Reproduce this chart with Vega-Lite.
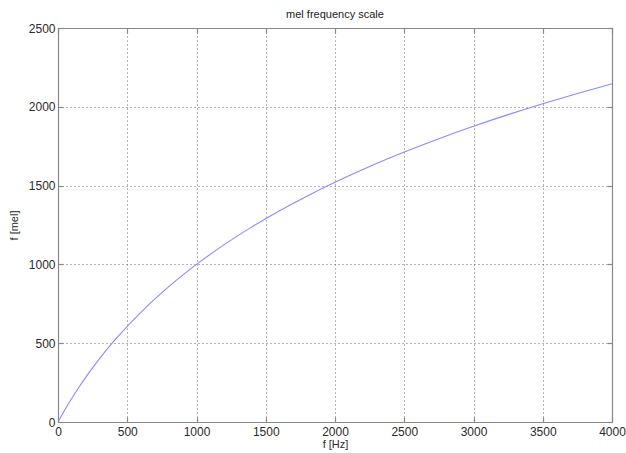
{
  "$schema": "https://vega.github.io/schema/vega-lite/v6.json",
  "width": 554,
  "height": 394,
  "autosize": {"type": "none"},
  "padding": {"left": 58, "top": 28, "right": 14, "bottom": 31},
  "background": "white",
  "title": {"text": "mel frequency scale", "fontSize": 11, "fontWeight": "normal", "font": "Liberation Sans", "color": "#222", "offset": 2},
  "config": {
    "view": {"stroke": null},
    "axis": {"labelFont": "Liberation Sans", "titleFont": "Liberation Sans", "labelFontSize": 12, "titleFontSize": 11, "titleFontWeight": "normal", "labelColor": "#2a2a2a", "titleColor": "#2a2a2a", "domainColor": "#888", "tickColor": "#888", "domainWidth": 1.2, "tickWidth": 1.2, "format": "d"}
  },
  "data": {"values": [
    {"hz": 0, "mel": 0}, {"hz": 50, "mel": 77.8}, {"hz": 100, "mel": 150.5}, {"hz": 150, "mel": 218.8},
    {"hz": 200, "mel": 283.2}, {"hz": 300, "mel": 402.0}, {"hz": 400, "mel": 509.4}, {"hz": 500, "mel": 607.5},
    {"hz": 600, "mel": 697.7}, {"hz": 700, "mel": 781.2}, {"hz": 800, "mel": 858.9}, {"hz": 900, "mel": 931.7},
    {"hz": 1000, "mel": 1000.0}, {"hz": 1200, "mel": 1125.3}, {"hz": 1400, "mel": 1238.1}, {"hz": 1600, "mel": 1340.7},
    {"hz": 1800, "mel": 1434.6}, {"hz": 2000, "mel": 1521.4}, {"hz": 2250, "mel": 1621.2}, {"hz": 2500, "mel": 1712.8},
    {"hz": 2750, "mel": 1797.6}, {"hz": 3000, "mel": 1876.5}, {"hz": 3250, "mel": 1950.2}, {"hz": 3500, "mel": 2019.3},
    {"hz": 3750, "mel": 2084.5}, {"hz": 4000, "mel": 2146.1}
  ]},
  "layer": [
    {
      "mark": {"type": "line", "color": "#8a8aff", "strokeWidth": 1.1, "interpolate": "monotone", "clip": true},
      "encoding": {
        "x": {"field": "hz", "type": "quantitative", "scale": {"domain": [0, 4000], "nice": false, "zero": false},
          "axis": {"orient": "bottom", "values": [0, 500, 1000, 1500, 2000, 2500, 3000, 3500, 4000], "title": "f [Hz]", "titlePadding": 1, "tickSize": -5, "labelPadding": 9,
            "grid": true, "gridDash": [1, 3], "gridColor": "#666", "gridWidth": 1, "labelFlush": false}},
        "y": {"field": "mel", "type": "quantitative", "scale": {"domain": [0, 2500], "nice": false, "zero": false},
          "axis": {"orient": "left", "values": [0, 500, 1000, 1500, 2000, 2500], "title": "f [mel]", "titlePadding": 9, "tickSize": -5, "labelPadding": 8,
            "grid": true, "gridDash": [1, 3], "gridColor": "#666", "gridWidth": 1}}
      }
    },
    {
      "mark": {"type": "point", "opacity": 0},
      "encoding": {
        "x": {"field": "hz", "type": "quantitative", "axis": {"orient": "top", "values": [0, 500, 1000, 1500, 2000, 2500, 3000, 3500, 4000], "labels": false, "title": null, "tickSize": -5, "grid": false}},
        "y": {"field": "mel", "type": "quantitative", "axis": {"orient": "right", "values": [0, 500, 1000, 1500, 2000, 2500], "labels": false, "title": null, "tickSize": -5, "grid": false}}
      }
    }
  ],
  "resolve": {"axis": {"x": "independent", "y": "independent"}}
}
